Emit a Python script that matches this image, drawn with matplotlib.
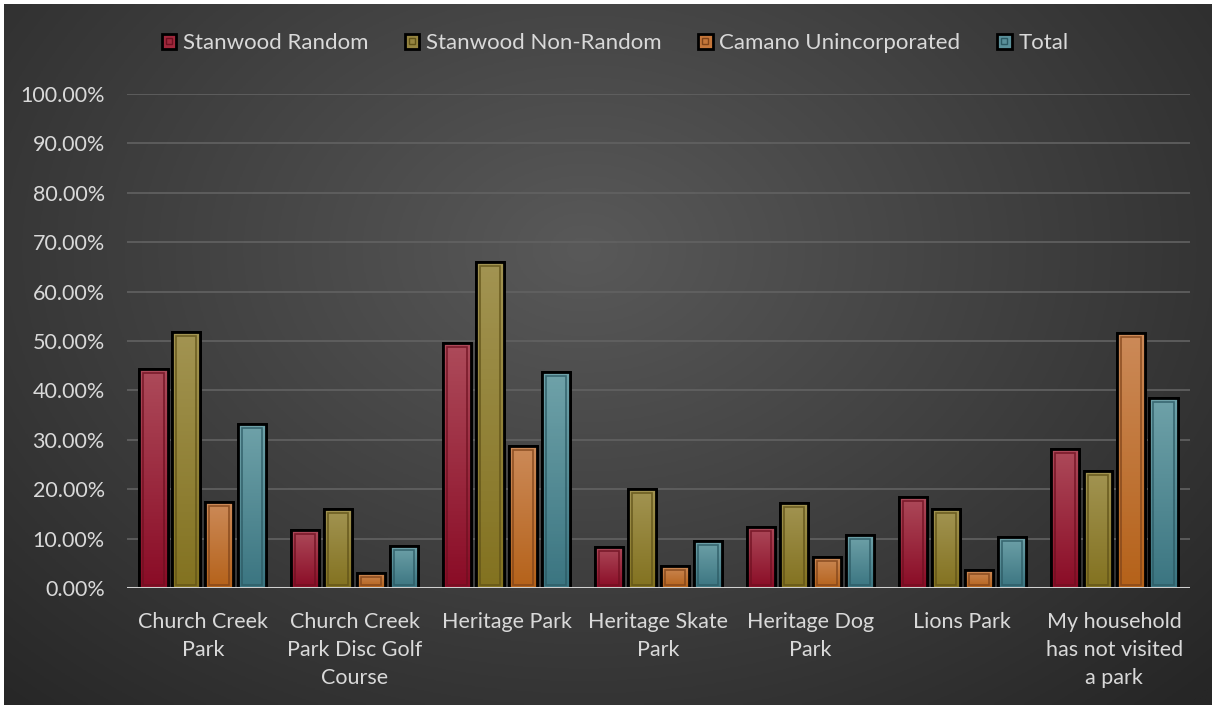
import numpy as np
import matplotlib
matplotlib.use("Agg")
import matplotlib.pyplot as plt
from matplotlib.patches import Rectangle, Patch
from matplotlib.lines import Line2D
from matplotlib.legend_handler import HandlerTuple
from matplotlib.colors import to_rgb
import matplotlib.patheffects as pe

categories = ["Church Creek\nPark", "Church Creek\nPark Disc Golf\nCourse", "Heritage Park",
              "Heritage Skate\nPark", "Heritage Dog\nPark", "Lions Park",
              "My household\nhas not visited\na park"]
series_names = ["Stanwood Random", "Stanwood Non-Random", "Camano Unincorporated", "Total"]
stanwood_random = [44.4, 11.7, 49.5, 8.4, 12.4, 18.5, 28.2]
stanwood_nonrandom = [51.9, 15.9, 65.9, 20.0, 17.3, 15.9, 23.7]
camano_uninc = [17.4, 3.1, 28.7, 4.5, 6.3, 3.6, 51.7]
total = [33.2, 8.6, 43.7, 9.6, 10.8, 10.4, 38.5]
yticks = [0, 10, 20, 30, 40, 50, 60, 70, 80, 90, 100]
ytick_labels = ["0.00%", "10.00%", "20.00%", "30.00%", "40.00%", "50.00%",
                "60.00%", "70.00%", "80.00%", "90.00%", "100.00%"]

series = [stanwood_random, stanwood_nonrandom, camano_uninc, total]
top_cols = ["#ad4a5a", "#a29452", "#cc8a58", "#6fa2a9"]
bot_cols = ["#8a0c26", "#837220", "#b5621a", "#3b7581"]
inner_cols = ["#6e1020", "#605218", "#80441a", "#2c5a64"]
leg_cols = ["#a0283c", "#958440", "#c4763a", "#5a909a"]

W, H = 1215, 707
fig = plt.figure(figsize=(W / 100, H / 100), dpi=100, facecolor="white")

# background radial gradient
bg = fig.add_axes([4 / W, 2 / H, (W - 7) / W, (H - 6) / H])
bg.set_axis_off()
gx, gy = np.meshgrid(np.linspace(0, 1, 400), np.linspace(0, 1, 240))
r = np.sqrt(((gx - 0.48) / 0.72) ** 2 + ((gy - 0.35) / 0.9) ** 2)
r = np.clip(r, 0, 1)
c_in = np.array(to_rgb("#595959"))
c_out = np.array(to_rgb("#262626"))
img = c_in[None, None, :] * (1 - r[..., None]) + c_out[None, None, :] * r[..., None]
bg.imshow(img, aspect="auto", extent=[0, 1, 0, 1], origin="upper")
bg.set_xlim(0, 1)
bg.set_ylim(0, 1)

font = "Lato"
txtc = "#d9d9d9"

ax = fig.add_axes([127 / W, (H - 588) / H, (1190 - 127) / W, (588 - 94) / H])
ax.patch.set_alpha(0)
ax.set_xlim(-0.5, len(categories) - 0.5)
ax.set_ylim(0, 100)

n = len(categories)
x = np.arange(n)
pitch = 0.217
bw = 0.185
px_x = 1 / 151.9
px_y = 100 / 494

grad = np.linspace(0, 1, 64)[:, None]
for si, vals in enumerate(series):
    offs = (si - 1.5) * pitch
    ct = np.array(to_rgb(top_cols[si]))
    cb = np.array(to_rgb(bot_cols[si]))
    gimg = ct[None, None, :] * (1 - grad[..., None]) + cb[None, None, :] * grad[..., None]
    bars = ax.bar(x + offs, vals, width=bw, facecolor=bot_cols[si], edgecolor="black",
                  linewidth=2.0, zorder=3)
    for b in bars:
        bx, by = b.get_x(), b.get_y()
        bwid, bh = b.get_width(), b.get_height()
        b.set_path_effects([pe.SimplePatchShadow(offset=(0, 0), shadow_rgbFace="black", alpha=0.35),
                            pe.Normal()])
        im = ax.imshow(gimg, extent=[bx, bx + bwid, by, by + bh], aspect="auto",
                       origin="upper", zorder=3.1)
        im.set_clip_path(b)
        inner = Rectangle((bx + 4 * px_x, by + 3 * px_y), bwid - 8 * px_x,
                          max(bh - 7 * px_y, 0.5), fill=False,
                          edgecolor=inner_cols[si], linewidth=1.2, alpha=0.8, zorder=3.2)
        ax.add_patch(inner)
        outline = Rectangle((bx, by), bwid, bh, fill=False, edgecolor="black",
                            linewidth=2.0, zorder=3.3)
        ax.add_patch(outline)

ax.set_yticks(yticks)
ax.set_yticklabels(ytick_labels)
ax.set_xticks(x)
ax.set_xticklabels(categories, linespacing=1.52)
ax.tick_params(axis="both", length=0, colors=txtc, labelsize=15.5)
ax.tick_params(axis="y", pad=16)
ax.tick_params(axis="x", pad=17)
for lab in ax.get_xticklabels() + ax.get_yticklabels():
    lab.set_fontfamily(font)
    lab.set_color(txtc)
for sp in ax.spines.values():
    sp.set_visible(False)
for yv in yticks[1:]:
    ax.axhline(yv, color="#626262", linewidth=1.2, zorder=1)
ax.axhline(0, color="#d0d0d0", linewidth=2.2, zorder=4)

handles = []
for si in range(4):
    handles.append((Patch(facecolor=leg_cols[si], edgecolor="black", linewidth=2.0),
                    Line2D([], [], marker="s", markersize=4.5, markerfacecolor="none",
                           markeredgecolor=inner_cols[si], linestyle="none")))
leg = fig.legend(handles, series_names, loc="center", bbox_to_anchor=(615 / W, 1 - 43 / H),
                 ncol=4, frameon=False, handler_map={tuple: HandlerTuple(ndivide=1)},
                 handlelength=0.65, handleheight=0.65, handletextpad=0.3, columnspacing=1.65,
                 prop={"family": font, "size": 16})
for t in leg.get_texts():
    t.set_color(txtc)

fig.savefig("out.png", dpi=100, facecolor="white")
